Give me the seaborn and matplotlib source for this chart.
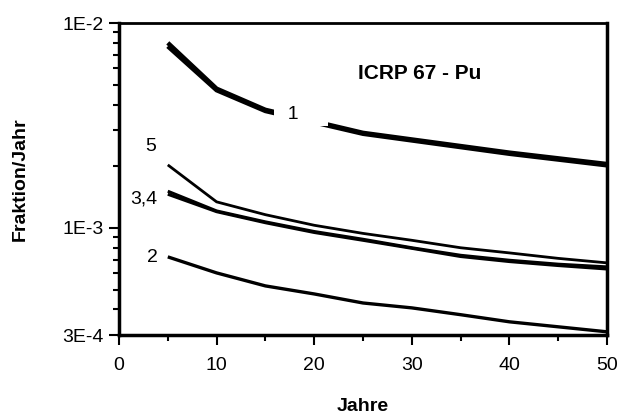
import numpy as np
import pandas as pd
import matplotlib
matplotlib.use("Agg")
import matplotlib.pyplot as plt
import seaborn as sns
from matplotlib.ticker import FixedLocator, NullFormatter

# ---- data ----
years1 = [5, 10, 15, 25, 40, 50]
line1a = [8.0e-3, 4.78e-3, 3.77e-3, 2.91e-3, 2.33e-3, 2.05e-3]
line1b = [7.7e-3, 4.70e-3, 3.72e-3, 2.88e-3, 2.30e-3, 2.02e-3]

years = [5, 10, 15, 20, 25, 30, 35, 40, 45, 50]
line5 = [2.03e-3, 1.34e-3, 1.16e-3, 1.03e-3, 9.4e-4, 8.7e-4, 8.0e-4, 7.55e-4, 7.1e-4, 6.75e-4]
line3 = [1.51e-3, 1.21e-3, 1.07e-3, 9.6e-4, 8.8e-4, 8.0e-4, 7.35e-4, 6.95e-4, 6.65e-4, 6.45e-4]
line4 = [1.46e-3, 1.20e-3, 1.06e-3, 9.5e-4, 8.7e-4, 7.95e-4, 7.25e-4, 6.85e-4, 6.55e-4, 6.30e-4]
line2 = [7.22e-4, 6.03e-4, 5.21e-4, 4.76e-4, 4.3e-4, 4.07e-4, 3.77e-4, 3.48e-4, 3.29e-4, 3.11e-4]

ytick_vals = [3e-4, 1e-3, 1e-2]
ytick_labels = ["3E-4", "1E-3", "1E-2"]
xtick_vals = [0, 10, 20, 30, 40, 50]

title_text = "ICRP 67 - Pu"
xlabel = "Jahre"
ylabel = "Fraktion/Jahr"

sns.set_theme(style="ticks")
plt.rcParams["font.family"] = ["Liberation Sans", "DejaVu Sans"]
plt.rcParams["text.color"] = "black"
plt.rcParams["axes.labelcolor"] = "black"
plt.rcParams["xtick.color"] = "black"
plt.rcParams["ytick.color"] = "black"

fig = plt.figure(figsize=(6.22, 4.17), dpi=100)
ax = fig.add_axes([0.1913, 0.1966, 0.9759 - 0.1913, 0.9448 - 0.1966])

series = [
    (years1, line1a, 3.2),
    (years1, line1b, 3.2),
    (years, line5, 2.0),
    (years, line3, 2.2),
    (years, line4, 2.2),
    (years, line2, 2.4),
]
for xs, ys, lw in series:
    df = pd.DataFrame({"x": xs, "y": ys})
    sns.lineplot(data=df, x="x", y="y", ax=ax, color="black", lw=lw,
                 solid_joinstyle="miter", solid_capstyle="butt")

ax.set_yscale("log")
ax.set_xlim(0, 50)
ax.set_ylim(3e-4, 1e-2)

ax.set_yticks(ytick_vals)
ax.set_yticklabels(ytick_labels)
minors = [v * 1e-4 for v in range(4, 10)] + [v * 1e-3 for v in range(2, 10)]
ax.yaxis.set_minor_locator(FixedLocator(minors))
ax.yaxis.set_minor_formatter(NullFormatter())

ax.set_xticks(xtick_vals)
ax.set_xticklabels([str(v) for v in xtick_vals])
ax.xaxis.set_minor_locator(FixedLocator([5, 15, 25, 35, 45]))

ax.tick_params(axis="both", which="major", direction="out", length=7, width=1.5,
               labelsize=14, color="black", labelcolor="black")
ax.tick_params(axis="x", which="major", pad=9)
ax.tick_params(axis="y", which="major", pad=4)
ax.tick_params(axis="both", which="minor", direction="out", length=4, width=1.5,
               color="black")

for side in ["left", "bottom", "right", "top"]:
    ax.spines[side].set_visible(True)
    ax.spines[side].set_color("black")
    ax.spines[side].set_linewidth(2.5)
ax.spines["top"].set_linewidth(2.0)

ax.set_xlabel(xlabel, fontsize=14, fontweight="bold", labelpad=17, color="black")
ax.set_ylabel(ylabel, fontsize=14, fontweight="bold", labelpad=24, color="black")

ax.text(30.8, 5.67e-3, title_text, fontsize=15, fontweight="bold",
        ha="center", va="center", zorder=6, color="black")
ax.text(16.2, 3.56e-3, "  1     ", fontsize=14, ha="left", va="center",
        zorder=6, color="black",
        bbox=dict(facecolor="white", edgecolor="none", pad=2))
ax.text(3.2, 2.51e-3, "5", fontsize=14, ha="center", va="center", color="black")
ax.text(2.5, 1.38e-3, "3,4", fontsize=14, ha="center", va="center", color="black")
ax.text(3.4, 7.14e-4, "2", fontsize=14, ha="center", va="center", color="black")

fig.savefig("out.png", dpi=100)
